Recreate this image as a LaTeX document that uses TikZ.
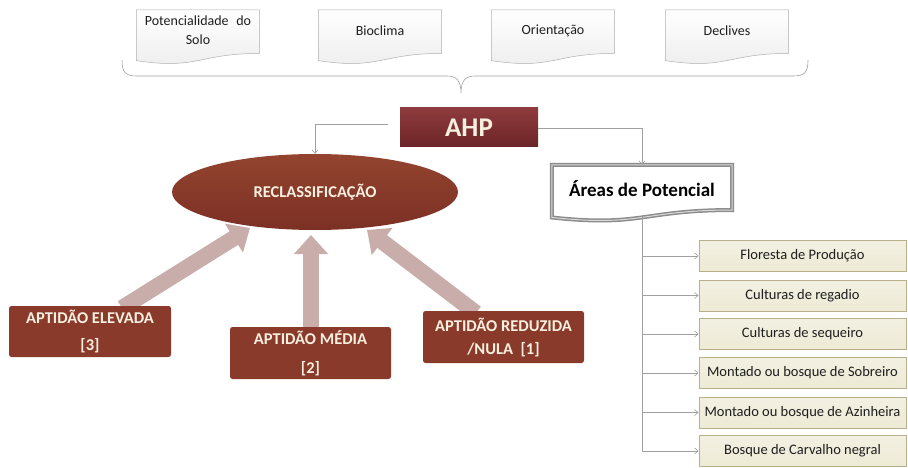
\documentclass[tikz,border=0pt]{standalone}
\usepackage{fontspec}
\setmainfont{Carlito}
\usetikzlibrary{calc,arrows.meta,shapes.geometric}

\definecolor{ahptop}{HTML}{8E3B3D}
\definecolor{ahpbot}{HTML}{6C2426}
\definecolor{elltop}{HTML}{93442F}
\definecolor{ellbot}{HTML}{7C3024}
\definecolor{brick}{HTML}{8A3A2A}
\definecolor{cream}{HTML}{F7EFDF}
\definecolor{fatarrow}{HTML}{C9ADAB}
\definecolor{connc}{HTML}{A0A0A0}
\definecolor{beige}{HTML}{EDEAD5}
\definecolor{beigeb}{HTML}{B8AF8B}
\definecolor{docb}{HTML}{B2B2B2}
\definecolor{txtdark}{HTML}{1E1E1E}

\newcommand\docoutline[2]{%
 \path[#1] let \p1=(#2.north west), \p2=(#2.south east), \n1={\y1-\y2} in
 (\x1,\y1) -- (\x2,\y1) -- (\x2,{\y1-0.802*\n1})
 .. controls ({0.5*\x1+0.5*\x2},{\y1-0.802*\n1}) and ({0.5*\x1+0.5*\x2},{\y1-1.107*\n1}) ..
 (\x1,{\y1-0.934*\n1}) -- cycle;}

\tikzset{
 docbox/.style={minimum width=123pt, minimum height=54pt, inner sep=0pt},
 doctext/.style={font=\fontsize{14}{19}\selectfont, text=txtdark, align=center, inner sep=0pt},
 ahpbox/.style={minimum width=138pt, minimum height=39pt, inner sep=0pt,
   top color=ahptop, bottom color=ahpbot, text=cream, font=\fontsize{27}{29}\selectfont\bfseries},
 reclass/.style={ellipse, minimum width=286pt, minimum height=76pt, inner sep=0pt,
   top color=elltop, bottom color=ellbot, text=cream, font=\fontsize{16.5}{19}\selectfont\bfseries},
 aptbox/.style={minimum width=161pt, minimum height=52pt, inner sep=0pt, rounded corners=2.5pt,
   fill=brick, text=cream, align=center},
 listbox/.style={minimum width=207pt, minimum height=31pt, inner sep=0pt,
   draw=beigeb, line width=1pt, top color=beige!70!white, bottom color=beige,
   text=txtdark, font=\fontsize{14.5}{16}\selectfont},
 fat/.style={draw=fatarrow, line width=16pt, -{Triangle[length=19pt,width=33pt]}},
 conn/.style={draw=connc, line width=0.6pt, -{Straight Barb[length=3.5pt,width=6pt]}},
}

\begin{document}
\begin{tikzpicture}[x=1pt,y=-1pt]
\useasboundingbox (0,0) rectangle (908,468);

% ---- top document shapes
\foreach \dn/\cx in {d1/198, d2/380, d3/553, d4/727}{
  \node[docbox] (\dn) at (\cx,37) {};
  \docoutline{fill=black!10, shift={(1.5pt,-1.5pt)}}{\dn}
  \docoutline{draw=docb, line width=0.5pt, top color=white, bottom color=black!7}{\dn}
}
\node[doctext] (t1) at (198,30) {Potencialidade\hspace{0.55em}do\\Solo};
\node[doctext] (t2) at (380,31) {Bioclima};
\node[doctext] (t3) at (553,31) {Orientação};
\node[doctext] (t4) at (727,31) {Declives};

% ---- brace
\draw[connc, line width=0.6pt]
 (122,60) .. controls (122,72) and (125,76) .. (137,76) -- (447,76)
 .. controls (456,76) and (461,80) .. (461,93)
 .. controls (461,80) and (466,76) .. (475,76) -- (793,76)
 .. controls (805,76) and (808,72) .. (808,60);

% ---- fat arrows (behind)
\coordinate (a1s) at (122,308); \coordinate (a1e) at (250,228);
\coordinate (a2s) at (311,328); \coordinate (a2e) at (311,235);
\coordinate (a3s) at (476,313); \coordinate (a3e) at (367,230);
\draw[fat] (a1s) -- (a1e);
\draw[fat] (a2s) -- (a2e);
\draw[fat] (a3s) -- (a3e);

% ---- AHP and reclassification
\node[ahpbox] (ahp) at (469,127.5) {AHP};
\node[reclass] (recl) at (315,192) {RECLASSIFICAÇÃO};

% ---- aptitude boxes
\node[aptbox, minimum width=162pt, minimum height=51pt,
      font=\fontsize{16.5}{27}\selectfont\bfseries] (elev) at (90,331.5) {APTIDÃO ELEVADA\\{}[3]};
\node[aptbox, font=\fontsize{16.5}{29}\selectfont\bfseries] (media) at (310.5,353) {APTIDÃO MÉDIA\\{}[2]};
\node[aptbox, font=\fontsize{16.5}{23}\selectfont\bfseries] (reduz) at (503.5,337) {APTIDÃO REDUZIDA\\/NULA~ [1]};

% ---- areas de potencial
\node[inner sep=0pt, minimum width=180pt, minimum height=56pt] (areas) at (642,193) {};
\docoutline{draw=black!45, line width=1.5pt, double=black!15, double distance=1pt, fill=white}{areas}
\node[font=\fontsize{19}{21}\selectfont\bfseries, text=black, inner sep=0pt] (areastxt) at (642,189) {Áreas de Potencial};

% ---- list boxes
\node[listbox] (l1) at (802.5,256) {Floresta de Produção};
\node[listbox] (l2) at (802.5,295.5) {Culturas de regadio};
\node[listbox] (l3) at (802.5,334) {Culturas de sequeiro};
\node[listbox] (l4) at (802.5,373) {Montado ou bosque de Sobreiro};
\node[listbox] (l5) at (802.5,412.5) {Montado ou bosque de Azinheira};
\node[listbox] (l6) at (802.5,451) {Bosque de Carvalho negral};

% ---- connectors
\coordinate (lstart) at (388,124);
\draw[conn] (lstart) -| (recl.north);
\coordinate (rstart) at (538,128);
\draw[conn] (rstart) -| (areas.north);
\coordinate (trunk) at (642,217);
\draw[conn] (trunk) |- (l6.west);
\foreach \i in {1,...,5}{
  \draw[conn] (trunk |- l\i.west) -- (l\i.west);
}
\end{tikzpicture}
\end{document}
